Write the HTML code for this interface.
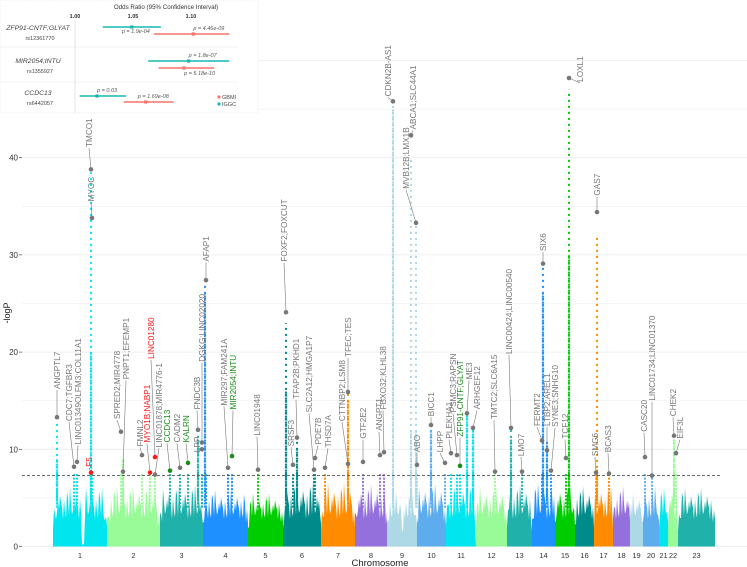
<!DOCTYPE html>
<html><head><meta charset="utf-8">
<style>
html,body{margin:0;padding:0;background:#fff;}
svg{display:block;font-family:"Liberation Sans",sans-serif;}
</style></head>
<body>
<svg id="chart" width="747" height="567" viewBox="0 0 747 567" xmlns="http://www.w3.org/2000/svg">
  <g id="grid"></g>
  <g id="bg"></g>
  <g id="cols"></g>
  <line id="thresh" stroke="#555" stroke-width="0.8" stroke-dasharray="3,2"/>
  <g id="labels"></g>
  <g id="axes"></g>
  <g id="inset"></g>
</svg>
<script>
// ---------- data ----------
const chromNames = ["1","2","3","4","5","6","7","8","9","10","11","12","13","14","15","16","17","18","19","20","21","22","23"];
const chromLengths = [54,53,43,45,35,38,34,32,30,29,30,31,25,23,20,19,19,17,13,16,9,10,37];
const chromBgMax = [6.3,6.5,6.6,6.0,5.6,7.0,6.8,6.6,5.8,6.8,6.8,6.4,6.6,6.8,6.6,6.4,6.6,6.4,5.6,6.4,6.2,6.6,6.2];
const yTicks = [0,10,20,30,40];
const threshold = 7.3;

const snpLabels = ["ANGPTL7","CDC7;TGFBR3","LINC01349OLFM3;COL11A1","TMCO1","MYOC","F5","SPRED2;MIR4778","PNPT1;EFEMP1","FMNL2","MYO1B;NABP1","LINC01280","LINC01878;MIR4776-1","CCDC13","CADM2","KALRN","FNDC3B","LPP","DGKG;LINC02020","AFAP1","MIR297;FAM241A","MIR2054;INTU","LINC01948","FOXF2;FOXCUT","SRSF3","TFAP2B;PKHD1","SLC2A12;HMGA1P7","PDE7B","THSD7A","CTTNBP2;LSM8","TFEC;TES","GTF2E2","ANGPT1","FBXO32;KLHL38","CDKN2B-AS1","ABCA1;SLC44A1","MVB12B;LMX1B","ABO","BICC1","LHPP","PLEKHA1","PSMC3;RAPSN","ZFP91-CNTF;GLYAT","ME3","ARHGEF12","TMTC2;SLC6A15","LINC00424;LINC00540","LMO7","FERMT2","LTBP2;AREL1","SYNE3;SNHG10","SIX6","TCF12","LOXL1","GAS7","SMG6","BCAS3","CASC20","LINC01734;LINC01370","CHEK2","EIF3L"];
const snpChrom = [1,1,1,1,1,1,2,2,2,2,2,2,3,3,3,3,3,3,4,4,4,5,6,6,6,6,6,7,7,7,8,8,8,9,9,9,9,10,10,11,11,11,11,11,12,13,13,14,14,14,14,15,15,17,17,17,20,20,22,22];
const snpPos = [4,21,24,38,39,38,14,16,35,43,48,48,10,20,28,38,42,42,3,25,29,10,3,10,14,31,32,4,27,27,8,25,29,6,24,29,30,14,28,5,11,14,21,27,19,4,15,10,15,19,11,11,14,3,2,15,2,9,6,8];
const snpLogP = [13.3,8.2,8.7,38.8,33.8,7.6,11.8,7.7,9.4,7.6,9.2,7.4,7.8,8.1,8.6,12.0,10.0,10.7,27.4,8.1,9.3,7.9,24.1,8.4,11.2,7.9,9.1,8.1,8.5,15.9,8.7,9.4,9.7,45.8,42.3,33.3,8.4,12.5,8.6,9.6,9.4,8.3,13.7,12.2,7.7,12.2,7.7,10.9,9.9,7.8,29.1,9.1,48.2,34.4,7.6,7.5,9.2,7.3,11.4,9.6];
const snpGroup = ["n","n","n","n","n","r","n","n","n","r","r","n","g","n","g","n","n","n","n","n","g","n","n","n","n","n","n","n","n","n","n","n","n","n","n","n","n","n","n","n","n","g","n","n","n","n","n","n","n","n","n","n","n","n","n","n","n","n","n","n"];
const columnChrom = [1,1,4,6,6,7,9,9,9,10,11,11,13,14,14,15,17,22,3,2];
const columnPos   = [4,38,2,3,14,27,6,24,29,14,21,27,4,11,15,14,3,6,38,16];
const columnTop   = [13,38.5,27,23,11,15.9,45.5,40,33,12.5,13.7,12,12.2,29,11,47,32,11.4,12,9];
const columnDense = [9,20,26,16,10,15,45,12,12,12,13.5,12,11,26,10.5,30,8,11,11,9];

// layout (not data)
const labelDx = [0,-5,1,-2,-1,-2,-4,3,-2,-3,-4,4,-3,-3,-2,-1,-5,0,0,-4,1,-1,-2,-2,-1,-5,3,3,-6,0,0,-1,-1,-5,2,-10,0,0,-5,-2,-4,0,2,4,-1,-2,-1,-5,0,4,0,-1,11,0,-1,-1,-1,0,-1,4];
const labelBase = [16.1,12.8,10.4,41,35.4,8.1,13.0,17.1,10.2,10.6,19.2,10.1,10.6,10.6,10.6,14.0,9.6,18.9,29.2,14.4,14.0,11.3,29.2,10.2,15.1,13.7,10.4,10.1,12.8,19.4,11.0,11.8,14.0,46.2,42.8,36.7,9.6,13.3,9.6,11.0,13.7,11.2,17.1,14.0,13.0,19.7,9.2,12.3,12.3,12.2,30.3,11.0,47.7,36.0,9.2,9.6,11.7,14.9,13.3,11.0];

const palette = ["#00e5ee","#98fb98","#20b2aa","#1e90ff","#00cd00","#008b8b","#ff8c00","#9370db","#add8e6","#5cacee"];
const groupColor = {n:"#777777", r:"#ff1a1a", g:"#1a8c1a"};

// ---------- scales ----------
const X0 = 53, X1 = 715, Y0 = 546.5, PXPER = 9.72;
const total = chromLengths.reduce((a,b)=>a+b,0);
const cumStart = []; {let c=0; chromLengths.forEach(l=>{cumStart.push(c); c+=l;});}
const xs = g => X0 + (g/total)*(X1-X0);
const xChrom = (c,p) => xs(cumStart[c-1]+p);
const ys = v => Y0 - v*PXPER;

const NS="http://www.w3.org/2000/svg";
function mk(tag, attrs, parent){const e=document.createElementNS(NS,tag);for(const k in attrs)e.setAttribute(k,attrs[k]);parent.appendChild(e);return e;}

const grid=document.getElementById('grid');
for(let v=0; v<=50; v+=5){
  const gl=mk('line',{x1:22,x2:747,y1:ys(v),y2:ys(v),stroke:'#ebebeb','stroke-width':v%10===0?0.8:0.5},grid);
  
  
}

// background mountains (texture pattern is styling)
const bg=document.getElementById('bg');
const jag=[0.1,0.6,0.3,0.95,0.2,0.7,0.45,0.05,0.5,0.15,0.8,0.35,0.25,0.65,0.0,0.55];
chromLengths.forEach((len,i)=>{
  const xa=xChrom(i+1,0), xb=xChrom(i+1,len);
  const col=palette[i%10];
  let pts=[[xa,Y0]];
  let k=i*5;
  for(let x=xa; x<=xb; x+=1){
    const t=(x-xa)/(xb-xa);
    const edge=Math.min(1,Math.min(t,1-t)*12);
    let dip=1;
    if(i===0 && t>0.52 && t<0.58) dip=0.05;
    if(i===8 && t>0.47 && t<0.55) dip=0.35;
    const h=(2.8+jag[k%jag.length]*(chromBgMax[i]-2.8))*(0.55+0.45*edge)*dip;
    pts.push([x,ys(h)]); k+=3;
  }
  pts.push([xb,Y0]);
  const poly=mk('polygon',{points:pts.map(p=>p[0].toFixed(1)+','+p[1].toFixed(1)).join(' '),fill:col},bg);
  
  
});

// columns
const cols=document.getElementById('cols');
columnChrom.forEach((c,i)=>{
  const x=xChrom(c,columnPos[i]);
  const col=palette[(c-1)%10];
  const l=mk('line',{x1:x,x2:x,y1:ys(5),y2:ys(columnTop[i]),stroke:col,'stroke-width':2,'stroke-dasharray':'2,4'},cols);
  
  
  const l2=mk('line',{x1:x,x2:x,y1:ys(4),y2:ys(columnDense[i]),stroke:col,'stroke-width':2.2,'stroke-dasharray':'2,1'},cols);
  
  
});
snpChrom.forEach((c,i)=>{
  const x=xChrom(c,snpPos[i]);
  const col=palette[(c-1)%10];
  const l=mk('line',{x1:x,x2:x,y1:ys(4),y2:ys(Math.min(snpLogP[i],7.5)),stroke:col,'stroke-width':2,'stroke-dasharray':'2,1.5'},cols);
  
  
});

const th=document.getElementById('thresh');
th.setAttribute('x1',22);th.setAttribute('x2',722);th.setAttribute('y1',ys(threshold));th.setAttribute('y2',ys(threshold));

const lab=document.getElementById('labels');
snpLabels.forEach((name,i)=>{
  const x=xChrom(snpChrom[i],snpPos[i]), y=ys(snpLogP[i]);
  const tx=x+labelDx[i], ty=ys(labelBase[i]);
  const colr=groupColor[snpGroup[i]];
  const ln=mk('line',{x1:x,y1:y,x2:tx,y2:ty,stroke:'#777','stroke-width':0.6},lab);
  
  
  const pt=mk('circle',{cx:x,cy:y,r:2.3,fill:snpGroup[i]==='n'?'#777':colr},lab);
  
  
  const t=mk('text',{x:0,y:0,transform:`translate(${tx+3},${ty-1}) rotate(-90)`,'font-size':8.2,fill:colr,'text-anchor':'start'},lab);
  t.textContent=name;
  
  
});

const ax=document.getElementById('axes');
yTicks.forEach(v=>{
  const t=mk('text',{x:18,y:ys(v)+3,'font-size':8,fill:'#333','text-anchor':'end'},ax);
  t.textContent=v;
  
  
  const tk=mk('line',{x1:19,x2:22,y1:ys(v),y2:ys(v),stroke:'#333','stroke-width':0.6},ax);
  
  
});
chromNames.forEach((n,i)=>{
  const x=xChrom(i+1,chromLengths[i]/2);
  const t=mk('text',{x:x,y:558,'font-size':7.5,fill:'#333','text-anchor':'middle'},ax);
  t.textContent=n;
  
  
});
const xt=mk('text',{x:380,y:566,'font-size':9.5,fill:'#222','text-anchor':'middle'},ax);
xt.textContent='Chromosome';


const yt=mk('text',{x:0,y:0,transform:'translate(10,313) rotate(-90)','font-size':9,fill:'#222','text-anchor':'middle'},ax);
yt.textContent='-logP';



// ---------- inset forest plot ----------
const insetRows = ["ZFP91-CNTF;GLYAT","MIR2054;INTU","CCDC13"];
const insetRs = ["rs12361770","rs1355927","rs6442057"];
const orGBMI = [1.102,1.094,1.061]; const loGBMI=[1.068,1.072,1.042]; const hiGBMI=[1.133,1.120,1.085];
const pGBMI = ["4.46e-09","5.18e-10","1.69e-08"];
const orIGGC = [1.049,1.098,1.019]; const loIGGC=[1.024,1.063,1.004]; const hiIGGC=[1.074,1.133,1.044];
const pIGGC = ["1.9e-04","1.8e-07","0.03"];
const orTicks = [1.00,1.05,1.10];

const ins=document.getElementById('inset');
const ox = v => 75 + (v-1.0)/0.05*58;
const ir=mk('rect',{x:0,y:0,width:258,height:113,fill:'#fff',stroke:'#e6e6e6','stroke-width':0.6,'stroke-dasharray':'2,1'},ins);


const it=mk('text',{x:166,y:9,'font-size':6.2,fill:'#333','text-anchor':'middle'},ins);
it.textContent='Odds Ratio (95% Confidence Interval)';


orTicks.forEach(v=>{
  const t=mk('text',{x:ox(v),y:18,'font-size':5.5,fill:'#333','text-anchor':'middle','font-weight':'bold'},ins);
  t.textContent=v.toFixed(2);
  
  
});
const rl=mk('line',{x1:ox(1),x2:ox(1),y1:20,y2:113,stroke:'#d8d8d8','stroke-width':0.7},ins);


[47,82].forEach(y=>{
  const s=mk('line',{x1:0,x2:238,y1:y,y2:y,stroke:'#e8e8e8','stroke-width':0.6},ins);
  
  
});
insetRows.forEach((name,i)=>{
  const base=[28,61,93][i];
  const tn=mk('text',{x:38,y:base+2,'font-size':6.8,fill:'#444','text-anchor':'middle','font-style':'italic'},ins);
  tn.textContent=name;
  
  
  const tr=mk('text',{x:40,y:base+12,'font-size':5.5,fill:'#444','text-anchor':'middle'},ins);
  tr.textContent=insetRs[i];
  
  
  const yI=[27,61,96][i], yG=[34,68,102][i];
  const li=mk('line',{x1:ox(loIGGC[i]),x2:ox(hiIGGC[i]),y1:yI,y2:yI,stroke:'#17b8b0','stroke-width':1.6},ins);
  
  
  const pi=mk('rect',{x:ox(orIGGC[i])-1.6,y:yI-1.6,width:3.2,height:3.2,fill:'#17b8b0'},ins);
  
  
  const lg=mk('line',{x1:ox(loGBMI[i]),x2:ox(hiGBMI[i]),y1:yG,y2:yG,stroke:'#f5736a','stroke-width':1.6},ins);
  
  
  const pg=mk('rect',{x:ox(orGBMI[i])-1.6,y:yG-1.6,width:3.2,height:3.2,fill:'#f5736a'},ins);
  
  
  const piT=mk('text',{x:ox(orIGGC[i])+(i===0?-10:0),y:i===0?yI+6:yI-4,'font-size':5.5,fill:'#555','font-style':'italic'},ins);
  piT.textContent='p = '+pIGGC[i];
  
  
  const pgT=mk('text',{x:ox(orGBMI[i])+(i===2?-8:0),y:i===1?yG+7:yG-4,'font-size':5.5,fill:'#555','font-style':'italic'},ins);
  pgT.textContent='p = '+pGBMI[i];
  
  
});
[["GBMI","#f5736a",99],["IGGC","#17b8b0",106]].forEach(([n,c,y])=>{
  const d=mk('circle',{cx:219,cy:y-2,r:1.6,fill:c},ins);
  
  
  const t=mk('text',{x:222,y:y,'font-size':5.5,fill:'#444'},ins);
  t.textContent=n;
  
  
});
</script>
</body></html>
